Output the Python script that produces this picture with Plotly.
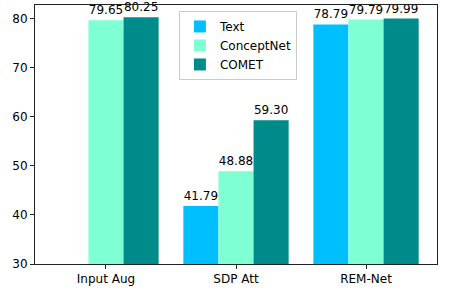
import plotly.graph_objects as go

categories = ["Input Aug", "SDP Att", "REM-Net"]
series_names = ["Text", "ConceptNet", "COMET"]
text_vals = [None, 41.79, 78.79]
conceptnet_vals = [79.65, 48.88, 79.79]
comet_vals = [80.25, 59.30, 79.99]
colors = ["#00BFFF", "#7FFFD4", "#008B8B"]
y_ticks = [30, 40, 50, 60, 70, 80]

font = "DejaVu Sans"
xs = list(range(len(categories)))

fig = go.Figure()
for name, vals, col in zip(series_names, [text_vals, conceptnet_vals, comet_vals], colors):
    fig.add_trace(go.Bar(
        x=xs, y=[(v - 30) if v is not None else None for v in vals], base=30,
        name=name, marker=dict(color=col, line=dict(width=0)),
        text=[f"{v:.2f}" if v is not None else "" for v in vals],
        textposition="outside", constraintext="none", cliponaxis=False,
        textfont=dict(family=font, size=12, color="black"),
        hoverinfo="skip",
    ))

fig.update_layout(
    width=463, height=290,
    margin=dict(l=35, r=26, t=4, b=25),
    paper_bgcolor="white", plot_bgcolor="white",
    barmode="group", bargap=0.19, bargroupgap=0,
    font=dict(family=font, size=12, color="black"),
    showlegend=True,
    legend=dict(x=0.358, y=0.977, xanchor="left", yanchor="top",
                bgcolor="rgba(255,255,255,0.8)", bordercolor="#cccccc", borderwidth=1,
                font=dict(family=font, size=12), tracegroupgap=0),
    xaxis=dict(range=[-0.546, 2.546], tickvals=xs, ticktext=categories,
               showgrid=False, zeroline=False, showline=True, linecolor="#222", linewidth=1,
               mirror=True, ticks="outside", ticklen=4, tickcolor="#222",
               tickfont=dict(family=font, size=12)),
    yaxis=dict(range=[30, 82.76], tickvals=y_ticks,
               showgrid=False, zeroline=False, showline=True, linecolor="#222", linewidth=1,
               mirror=True, ticks="outside", ticklen=4, tickcolor="#222",
               tickfont=dict(family=font, size=12)),
)

fig.write_html("out.html", config={"displayModeBar": False},
               post_script="document.body.style.margin='0px';document.body.style.padding='0px';")
